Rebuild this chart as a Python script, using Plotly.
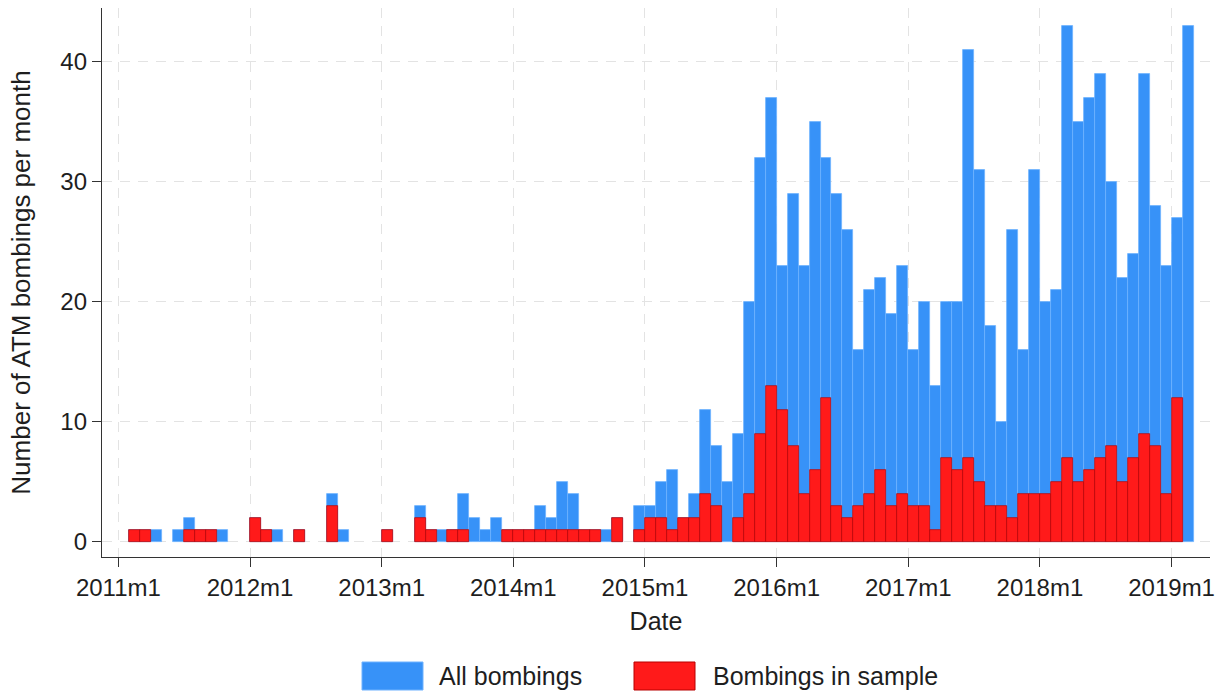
import plotly.graph_objects as go

# Monthly counts, 2011m1 .. 2019m2
years = list(range(2011, 2020))
months = [f"{y}m{m}" for y in years for m in range(1, 13)][:98]

all_bombings = [
    0, 1, 1, 1, 0, 1, 2, 1, 1, 1, 0, 0,        # 2011
    2, 1, 1, 0, 1, 0, 0, 4, 1, 0, 0, 0,        # 2012
    1, 0, 0, 3, 1, 1, 1, 4, 2, 1, 2, 1,        # 2013
    1, 1, 3, 2, 5, 4, 1, 1, 1, 2, 0, 3,        # 2014
    3, 5, 6, 2, 4, 11, 8, 5, 9, 20, 32, 37,    # 2015
    23, 29, 23, 35, 32, 29, 26, 16, 21, 22, 19, 23,  # 2016
    16, 20, 13, 20, 20, 41, 31, 18, 10, 26, 16, 31,  # 2017
    20, 21, 43, 35, 37, 39, 30, 22, 24, 39, 28, 23,  # 2018
    27, 43,                                     # 2019
]

in_sample = [
    0, 1, 1, 0, 0, 0, 1, 1, 1, 0, 0, 0,        # 2011
    2, 1, 0, 0, 1, 0, 0, 3, 0, 0, 0, 0,        # 2012
    1, 0, 0, 2, 1, 0, 1, 1, 0, 0, 0, 1,        # 2013
    1, 1, 1, 1, 1, 1, 1, 1, 0, 2, 0, 1,        # 2014
    2, 2, 1, 2, 2, 4, 3, 0, 2, 4, 9, 13,       # 2015
    11, 8, 4, 6, 12, 3, 2, 3, 4, 6, 3, 4,      # 2016
    3, 3, 1, 7, 6, 7, 5, 3, 3, 2, 4, 4,        # 2017
    4, 5, 7, 5, 6, 7, 8, 5, 7, 9, 8, 4,        # 2018
    12, 0,                                      # 2019
]

tick_labels = [f"{y}m1" for y in years]

BLUE = "#3792F8"
RED = "#FF1A1A"
FONT = "Liberation Sans, Arial, Helvetica, sans-serif"
TXT = "#1e1e1e"


def month_index(label):
    y, m = label.split("m")
    return (int(y) - 2011) * 12 + int(m) - 1


# each bar spans its whole month: [index, index + 1]
xpos = [month_index(m) + 0.5 for m in months]
tick_pos = [month_index(t) for t in tick_labels]


def nz(vals):
    return [v if v > 0 else None for v in vals]


fig = go.Figure()
fig.add_trace(go.Bar(
    x=xpos, y=nz(all_bombings), width=1, name="All bombings",
    marker=dict(color=BLUE, line=dict(color="#6FB2FF", width=0.8)),
    showlegend=False, hovertext=months,
))
fig.add_trace(go.Bar(
    x=xpos, y=nz(in_sample), width=1, name="Bombings in sample",
    marker=dict(color=RED, line=dict(color="#B80000", width=0.7)),
    showlegend=False, hovertext=months,
))

W, H = 1228, 694
L, R, T, B = 102, 18, 8, 137
pw, ph = W - L - R, H - T - B


def px_x(x):
    return (x - L) / pw


def px_y(y):
    return (H - B - y) / ph


# legend drawn below the plot
legend_items = [
    ("All bombings", BLUE, "#6FB2FF", 362, 423, 437),
    ("Bombings in sample", RED, "#B80000", 634, 695, 711),
]
shapes, annotations = [], []
for text, fill, edge, x0, x1, tx in legend_items:
    shapes.append(dict(
        type="rect", xref="paper", yref="paper",
        x0=px_x(x0), x1=px_x(x1), y0=px_y(690), y1=px_y(662),
        fillcolor=fill, line=dict(color=edge, width=1),
    ))
    annotations.append(dict(
        text=text, xref="paper", yref="paper", x=px_x(tx), y=px_y(676),
        xanchor="left", yanchor="middle", showarrow=False,
        font=dict(family=FONT, size=25, color=TXT),
    ))

axis_common = dict(
    showline=True, linecolor="#333333", linewidth=1.3,
    ticks="outside", ticklen=9, tickwidth=1.3, tickcolor="#333333",
    showgrid=True, gridcolor="#E3E3E3", gridwidth=1, griddash="10px,8px",
    zeroline=False,
    tickfont=dict(family=FONT, size=24, color=TXT),
)

fig.update_layout(
    width=W, height=H,
    margin=dict(l=L, r=R, t=T, b=B),
    paper_bgcolor="white", plot_bgcolor="white",
    barmode="overlay", bargap=0,
    xaxis=dict(
        range=[-1.49, 99.5],
        tickmode="array", tickvals=tick_pos, ticktext=tick_labels,
        title=dict(text="Date", font=dict(family=FONT, size=25, color=TXT), standoff=12),
        **axis_common,
    ),
    yaxis=dict(
        range=[-1.29, 44.46],
        tickmode="array", tickvals=[0, 10, 20, 30, 40],
        title=dict(text="Number of ATM bombings per month",
                   font=dict(family=FONT, size=26, color=TXT), standoff=22),
        **axis_common,
    ),
    shapes=shapes,
    annotations=annotations,
    showlegend=False,
)

fig.write_html("out.html")
